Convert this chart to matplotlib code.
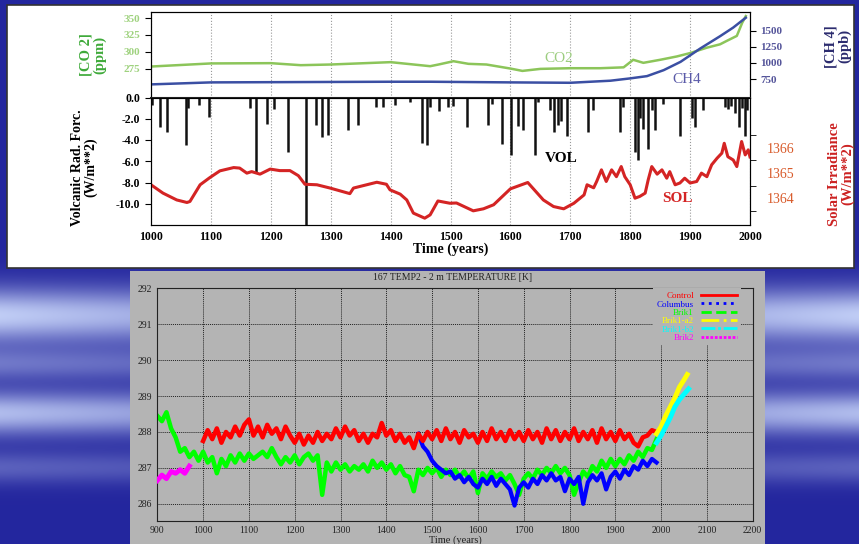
import numpy as np
import matplotlib
matplotlib.use("Agg")
import matplotlib.pyplot as plt
from matplotlib.patches import Rectangle
from matplotlib.lines import Line2D

# ---- forcing data (top panel) ----
co2_years = [1000, 1100, 1200, 1250, 1300, 1400, 1466, 1480, 1505, 1530, 1560, 1600, 1620, 1650,
             1700, 1750, 1789, 1805, 1822, 1850, 1878, 1900, 1928, 1950, 1961, 1978, 1987, 1993]
co2_ppm = [278, 282.6, 283, 280, 281, 284.5, 278.5, 281, 285.9, 282, 281, 275, 271.5, 274.5,
           275.5, 275.5, 276.8, 288, 283.5, 288, 293, 298, 306, 311, 316, 323.5, 343, 353]

ch4_years = [1000, 1100, 1400, 1466, 1600, 1700, 1767, 1800, 1828, 1856, 1884, 1917, 1950, 1972, 1989, 1993]
ch4_ppb = [668, 699, 709, 709, 699, 693, 725, 761, 796, 889, 1017, 1224, 1414, 1548, 1672, 1700]

vol_years = [1002, 1015, 1026, 1058, 1062, 1080, 1097,
             1165, 1175, 1193, 1206, 1229, 1259, 1275, 1285, 1295,
             1329, 1345, 1375, 1387, 1407, 1433, 1453, 1460, 1466, 1481, 1495, 1505, 1527,
             1563, 1570, 1586, 1601, 1613, 1621, 1641, 1646,
             1666, 1673, 1680, 1685, 1694,
             1729, 1738, 1783, 1788,
             1808, 1813, 1816, 1822, 1830, 1836, 1841, 1854,
             1883, 1904, 1908, 1922,
             1958, 1963, 1968, 1975, 1982, 1986, 1991, 1995]
vol_forcing = [-0.7, -2.75, -3.2, -4.5, -1.0, -0.7, -1.8,
               -1.0, -7.0, -2.45, -1.1, -5.1, -12.0, -2.6, -3.7, -3.55,
               -3.1, -2.6, -0.9, -0.9, -0.7, -0.4, -4.3, -4.5, -0.9, -1.3, -0.9, -0.8, -2.75,
               -2.6, -0.6, -4.4, -5.4, -2.7, -3.1, -5.4, -0.4,
               -1.2, -3.2, -2.6, -2.2, -3.6,
               -3.2, -1.2, -3.2, -0.9,
               -5.1, -5.9, -1.9, -3.0, -4.8, -1.2, -3.1, -0.6,
               -3.6, -1.9, -2.8, -1.2,
               -0.9, -1.1, -0.8, -1.5, -2.75, -1.0, -3.6, -1.2]

sol_years = [1000, 1020, 1043, 1060, 1065, 1082, 1098, 1115, 1138, 1148,
             1160, 1168, 1182, 1199, 1215, 1232, 1246, 1257, 1277, 1299,
             1332, 1338, 1360, 1377, 1393, 1399, 1416, 1427, 1438, 1457,
             1466, 1479, 1499, 1510, 1538, 1555, 1572, 1600, 1629, 1655,
             1672, 1689, 1706, 1723, 1728, 1739, 1744, 1752, 1760, 1769,
             1777, 1785, 1791, 1800, 1808, 1816, 1825, 1830, 1836, 1845,
             1853, 1861, 1866, 1875, 1883, 1891, 1900, 1911, 1919, 1928,
             1936, 1945, 1953, 1957, 1963, 1972, 1978, 1986, 1992, 1997, 2000]
sol_irr = [1364.53, 1364.2, 1363.93, 1363.83, 1363.87, 1364.53, 1364.81, 1365.08, 1365.21, 1365.19,
           1364.99, 1365.05, 1364.95, 1365.15, 1365.09, 1365.09, 1364.89, 1364.55, 1364.53, 1364.40,
           1364.18, 1364.40, 1364.53, 1364.63, 1364.55, 1364.33, 1364.16, 1363.93, 1363.41, 1363.21,
           1363.34, 1363.89, 1363.80, 1363.81, 1363.50, 1363.58, 1363.74, 1364.37, 1364.62, 1363.93,
           1363.67, 1363.58, 1363.80, 1364.13, 1364.53, 1364.41, 1364.66, 1365.12, 1364.66, 1365.12,
           1364.85, 1365.25, 1364.85, 1364.53, 1364.0, 1364.07, 1364.20, 1364.72, 1365.25, 1364.95,
           1365.12, 1364.79, 1365.05, 1364.53, 1364.6, 1364.79, 1364.6, 1364.66, 1364.99, 1364.85,
           1365.32, 1365.58, 1365.78, 1366.17, 1365.64, 1365.51, 1365.25, 1366.24, 1365.71, 1365.91, 1365.63]

# ---- 2 m temperature runs (bottom panel), 10-year samples ----
control_start = 1000
control_t = [287.75, 288.05, 287.80, 288.10, 287.70, 288.00, 287.85, 288.15, 287.90, 288.20,
             288.35, 287.90, 288.15, 287.85, 288.20, 287.95, 288.10, 287.80, 288.15, 287.90,
             287.70, 287.95, 287.65, 287.90, 287.70, 288.00, 287.75, 287.95, 287.80, 288.10,
             287.85, 288.15, 287.90, 288.05, 287.75, 287.95, 287.70, 287.95, 287.85, 288.25,
             287.90, 288.05, 287.75, 287.95, 287.70, 287.85, 287.55, 287.95, 287.75, 288.00,
             287.80, 288.05, 287.75, 288.10, 287.80, 288.00, 287.70, 288.05, 287.85, 287.95,
             287.70, 288.00, 287.75, 288.10, 287.80, 288.00, 287.75, 288.05, 287.80, 288.00,
             287.75, 288.05, 287.80, 288.00, 287.70, 288.10, 287.80, 288.05, 287.75, 288.00,
             287.80, 288.10, 287.75, 288.00, 287.80, 288.05, 287.70, 288.10, 287.80, 288.00,
             287.75, 288.05, 287.80, 287.95, 287.70, 287.60, 287.85, 287.90, 288.05, 288.00]

brik1_start = 900
brik1_t = [288.45, 288.30, 288.55, 288.10, 287.85, 287.45, 287.55, 287.30, 287.45, 287.20,
           287.45, 287.15, 287.30, 286.85, 287.25, 287.05, 287.35, 287.15, 287.40, 287.20,
           287.40, 287.25, 287.35, 287.45, 287.30, 287.55, 287.30, 287.10, 287.30, 287.15,
           287.35, 287.10, 287.30, 287.40, 287.20, 287.35, 286.25, 287.15, 286.90, 287.15,
           286.95, 287.10, 286.90, 287.05, 286.95, 287.10, 286.90, 287.20, 287.00, 287.15,
           286.95, 287.10, 286.85, 287.05, 286.80, 286.75, 286.35, 286.95, 286.80, 287.00,
           286.85, 287.00, 286.75, 286.95, 286.80, 286.95, 286.75, 286.90, 286.70, 286.90,
           286.30, 286.85, 286.70, 286.90, 286.75, 286.85, 286.65, 286.80, 286.55, 286.25,
           286.70, 286.85, 286.70, 286.95, 286.80, 287.00, 286.85, 287.05, 286.85, 287.00,
           286.80, 286.25, 286.60, 286.90, 286.75, 287.05, 286.90, 287.20, 287.00, 287.25,
           287.05, 287.25, 287.10, 287.35, 287.20, 287.45, 287.30, 287.55, 287.50, 287.80]

columbus_start = 1470
columbus_t = [287.95, 287.60, 287.45, 287.20, 287.05, 286.95, 286.85, 286.90, 286.70, 286.80,
              286.60, 286.75, 286.55, 286.45, 286.70, 286.55, 286.75, 286.50, 286.70, 286.55,
              286.40, 285.95, 286.45, 286.60, 286.45, 286.70, 286.55, 286.80, 286.65, 286.85,
              286.65, 286.75, 286.35, 286.70, 286.55, 286.75, 286.00, 286.60, 286.80, 286.65,
              286.85, 286.40, 286.75, 286.90, 286.70, 286.95, 286.80, 287.05, 286.95, 287.20,
              287.05, 287.25, 287.15]

a2_years = [1990, 2000, 2010, 2020, 2030, 2040, 2050, 2057]
a2_t = [287.95, 288.15, 288.45, 288.70, 288.95, 289.25, 289.45, 289.60]
b2_years = [1990, 2000, 2010, 2020, 2030, 2040, 2050, 2060]
b2_t = [287.70, 287.90, 288.15, 288.40, 288.70, 288.90, 289.05, 289.20]
brik2_years = [900, 910, 920, 930, 940, 950, 960, 970]
brik2_t = [286.65, 286.80, 286.70, 286.90, 286.85, 286.95, 286.85, 287.05]

W, H = 859, 544


def fx(px):
    return px / W


def fy(py):
    return 1 - py / H


plt.rcParams['font.family'] = ['Liberation Serif', 'DejaVu Serif']

fig = plt.figure(figsize=(W / 100, H / 100), dpi=100)

# slide background
bg = fig.add_axes([0, 0, 1, 1], zorder=-5)
yy, xx = np.mgrid[0:1:H * 1j, 0:1:W * 1j]
streak = (1.0 * np.exp(-((yy - 0.58) / 0.05) ** 2)
          + 0.9 * np.exp(-((yy - 0.76) / 0.04) ** 2)
          + 0.45 * np.exp(-((yy - 0.67) / 0.03) ** 2)
          + 0.35 * np.exp(-((yy - 0.86) / 0.03) ** 2))
streak = streak * (0.45 + 0.55 * np.abs(xx - 0.5) * 2)
dark = np.array([0.14, 0.15, 0.62])
light = np.array([0.75, 0.80, 0.96])
img = dark + np.clip(streak, 0, 1)[..., None] * (light - dark)
bg.imshow(img, extent=[0, 1, 0, 1], aspect='auto', origin='upper')
bg.add_patch(Rectangle((fx(7), fy(268)), fx(854) - fx(7), (268 - 5) / H,
                       facecolor='white', edgecolor='#333333', lw=1.2))
bg.add_patch(Rectangle((fx(130), 0), fx(765) - fx(130), 273 / H,
                       facecolor='#b4b4b4', edgecolor='none'))
bg.set_xlim(0, 1)
bg.set_ylim(0, 1)
bg.axis('off')

years_axis = np.arange(1000, 2001, 100)

# ---- CO2 / CH4 panel ----
ax_gas = fig.add_axes([fx(151), fy(97.5), fx(750) - fx(151), (97.5 - 12) / H])
ax_gas.set_facecolor('none')
ax_gas.plot(co2_years, co2_ppm, color='#8cc55a', lw=1.8)
ax_gas.set_xlim(1000, 2000)
ax_gas.set_ylim(232, 359)
ax_gas.set_yticks([275, 300, 325, 350])
ax_gas.set_xticks(years_axis)
ax_gas.grid(axis='x', color='#999999', ls=':', lw=0.8)
ax_gas.tick_params(axis='x', length=0, labelbottom=False)
ax_gas.tick_params(axis='y', direction='out', length=4, labelsize=8, labelcolor='#9fd27f')
for lab in ax_gas.get_yticklabels():
    lab.set_fontweight('bold')
ax_gas.spines['bottom'].set_visible(False)
ax_gas.set_ylabel('[CO 2]\n(ppm)', color='#3faa3a', fontsize=10.5, fontweight='bold',
                  linespacing=1.0)
ax_gas.yaxis.set_label_coords(-0.075, 0.5)
ax_gas.text(1680, 290, 'CO2', color='#9ccd7f', fontsize=11, ha='center', va='center')

ax_ch4 = ax_gas.twinx()
ax_ch4.plot(ch4_years, ch4_ppb, color='#3b4fa3', lw=1.8)
ax_ch4.set_ylim(465, 1789)
ax_ch4.set_yticks([750, 1000, 1250, 1500])
ax_ch4.tick_params(axis='y', direction='out', length=4, labelsize=8, labelcolor='#55559a')
for lab in ax_ch4.get_yticklabels():
    lab.set_fontweight('bold')
ax_ch4.spines['bottom'].set_visible(False)
ax_ch4.set_ylabel('[CH 4]\n(ppb)', color='#2b2b6e', fontsize=10.5, fontweight='bold',
                  linespacing=1.0, rotation=90)
ax_ch4.yaxis.set_label_coords(1.125, 0.6)
ax_ch4.text(1895, 750, 'CH4', color='#5a5aa8', fontsize=11, ha='center', va='center')

# ---- volcanic / solar panel ----
ax_vol = fig.add_axes([fx(151), fy(225), fx(750) - fx(151), (225 - 97.5) / H])
ax_vol.set_facecolor('none')
ax_vol.vlines(vol_years, vol_forcing, 0, color='#111111', lw=1.8, zorder=3)
ax_vol.set_xlim(1000, 2000)
ax_vol.set_ylim(-12, 0)
ax_vol.set_xticks(years_axis)
ax_vol.set_yticks([0, -2, -4, -6, -8, -10])
ax_vol.set_yticklabels(['0.0', '-2.0', '-4.0', '-6.0', '-8.0', '-10.0'])
ax_vol.grid(axis='x', color='#999999', ls=':', lw=0.8)
ax_vol.tick_params(axis='x', length=0, labelsize=8.5, pad=4)
ax_vol.tick_params(axis='y', direction='out', length=4, labelsize=8.5)
for lab in ax_vol.get_xticklabels() + ax_vol.get_yticklabels():
    lab.set_fontweight('bold')
for sp in ax_vol.spines.values():
    sp.set_color('#222222')
ax_vol.spines['top'].set_linewidth(1.5)
ax_vol.set_xlabel('Time (years)', fontsize=10, fontweight='bold', labelpad=0)
ax_vol.set_ylabel('Volcanic Rad. Forc.\n(W/m**2)', fontsize=10, fontweight='bold',
                  linespacing=1.0)
ax_vol.yaxis.set_label_coords(-0.09, 0.45)
ax_vol.text(1685, -5.76, 'VOL', fontsize=11, fontweight='bold', ha='center', va='center')

ax_sol = ax_vol.twinx()
ax_sol.plot(sol_years, sol_irr, color='#d42424', lw=2.2)
ax_sol.set_ylim(1362.94, 1367.98)
ax_sol.set_yticks([1364, 1365, 1366])
ax_sol.set_yticks([1363.5, 1364.5, 1365.5, 1366.5], minor=True)
ax_sol.tick_params(axis='y', which='major', length=0, pad=12, labelsize=10, labelcolor='#d85a2a')
ax_sol.tick_params(axis='y', which='minor', direction='out', length=4)
ax_sol.set_ylabel('Solar Irradiance\n(W/m**2)', color='#cc2222', fontsize=10.5,
                  fontweight='bold', linespacing=1.0)
ax_sol.yaxis.set_label_coords(1.13, 0.40)
ax_sol.text(1879, 1363.97, 'SOL', color='#d42424', fontsize=11, fontweight='bold',
            ha='center', va='center')

# ---- temperature panel ----
ax_t = fig.add_axes([fx(157.3), fy(520.7), fx(752.7) - fx(157.3), (520.7 - 288.3) / H])
ax_t.set_facecolor('#b4b4b4')
control_years = control_start + 10 * np.arange(len(control_t))
brik1_years = brik1_start + 10 * np.arange(len(brik1_t))
columbus_years = columbus_start + 10 * np.arange(len(columbus_t))

ax_t.plot(control_years, control_t, color='#ff0000', lw=3.2, zorder=3)
ax_t.plot(brik1_years, brik1_t, color='#00ff00', lw=3.2, zorder=2)
ax_t.plot(columbus_years, columbus_t, color='#0000ff', lw=3.0, zorder=2.5)
ax_t.plot(a2_years, a2_t, color='#ffff00', lw=3.5, zorder=3)
ax_t.plot(b2_years, b2_t, color='#00ffff', lw=3.5, zorder=3.5)
ax_t.plot(brik2_years, brik2_t, color='#ff00ff', lw=3.5, zorder=3)

ax_t.set_xlim(900, 2200)
ax_t.set_ylim(285.53, 292)
ax_t.set_xticks(np.arange(900, 2201, 100))
ax_t.set_yticks([286, 287, 288, 289, 290, 291, 292])
ax_t.grid(color='#222222', ls=(0, (1, 1)), lw=0.7)
ax_t.set_axisbelow(True)
ax_t.tick_params(length=0, labelsize=7, colors='#222222', pad=4)
for sp in ax_t.spines.values():
    sp.set_color('#222222')
ax_t.set_xlabel('Time (years)', fontsize=7.5, color='#222222', labelpad=0)
fig.text(fx(453), fy(277), '167 TEMP2 - 2 m TEMPERATURE [K]', fontsize=7,
         color='#222222', ha='center', va='center')

legend_names = ['Control', 'Columbus', 'Brik1', 'Brik1-a2', 'Brik1-b2', 'Brik2']
legend_colors = ['#ff0000', '#0000ff', '#00ff00', '#ffff00', '#00ffff', '#ff00ff']
legend_styles = ['-', ':', '--', '-.', (0, (5, 1, 1, 1)), (0, (1, 0.6))]
handles = [Line2D([], [], color=c, ls=s, lw=2) for c, s in zip(legend_colors, legend_styles)]
ax_t.legend(handles, legend_names, loc='upper right', bbox_to_anchor=(0.98, 1.0),
            markerfirst=False, labelcolor=legend_colors, fontsize=6.5, frameon=True,
            facecolor='#b4b4b4', edgecolor='none', framealpha=1,
            handlelength=4.0, handletextpad=0.8, labelspacing=0.0, borderaxespad=0,
            borderpad=0.4, fancybox=False)

fig.savefig('out.png', dpi=100)
